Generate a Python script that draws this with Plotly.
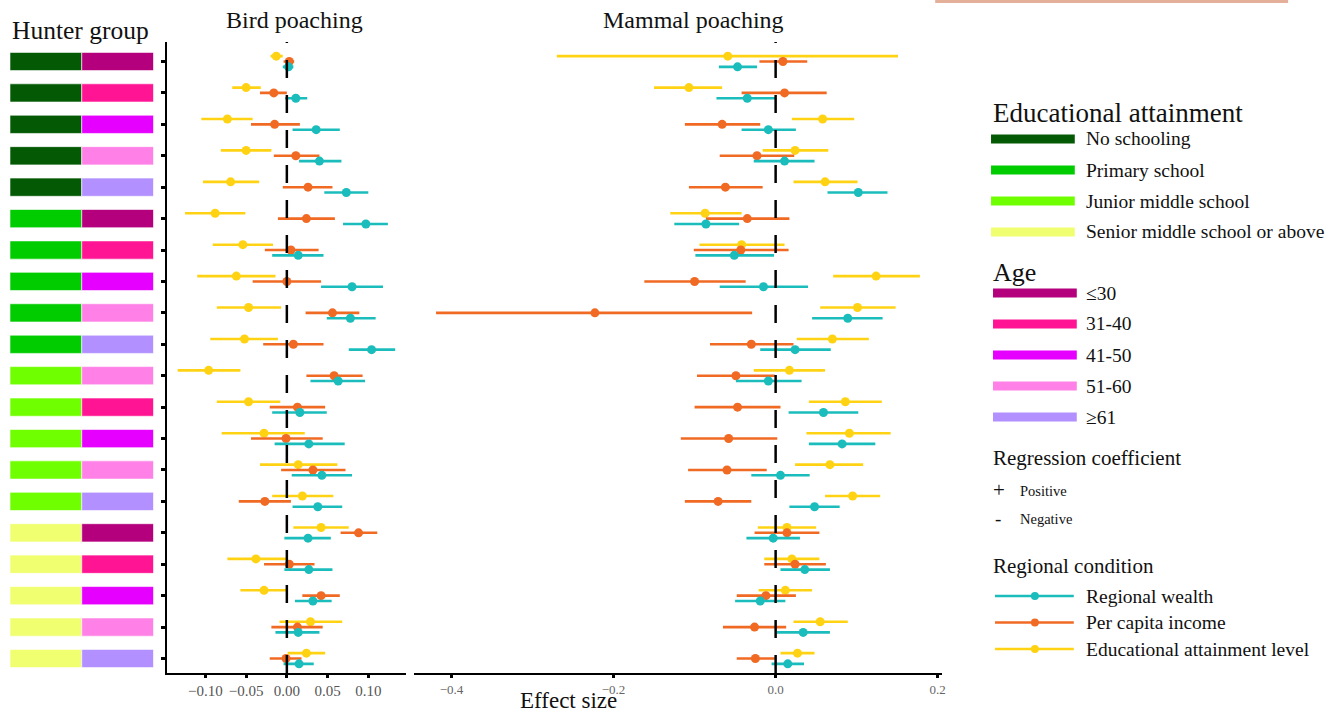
import plotly.graph_objects as go

W, H = 1339, 714
SERIF = "Liberation Serif, Times New Roman, serif"

# ---------------- data ----------------
education_groups = ["No schooling"] * 5 + ["Primary school"] * 5 + ["Junior middle school"] * 5 + ["Senior middle school or above"] * 5
age_groups = ["≤30", "31-40", "41-50", "51-60", "≥61",
              "≤30", "31-40", "41-50", "51-60", "≥61",
              "51-60", "31-40", "41-50", "51-60", "≥61",
              "≤30", "31-40", "41-50", "51-60", "≥61"]

# Bird poaching
bird_edu = [-0.013, -0.050, -0.073, -0.050, -0.069, -0.088, -0.054, -0.062, -0.047, -0.052,
            -0.096, -0.047, -0.028, 0.014, 0.019, 0.042, -0.038, -0.028, 0.029, 0.024]
bird_edu_lo = [-0.020, -0.067, -0.105, -0.081, -0.103, -0.125, -0.091, -0.110, -0.086, -0.094,
               -0.134, -0.086, -0.080, -0.033, -0.018, 0.008, -0.073, -0.057, -0.009, 0.001]
bird_edu_hi = [-0.005, -0.032, -0.042, -0.019, -0.034, -0.051, -0.017, -0.014, -0.007, -0.011,
               -0.057, -0.008, 0.022, 0.062, 0.057, 0.076, 0.000, 0.000, 0.068, 0.047]

bird_inc = [0.003, -0.016, -0.015, 0.011, 0.026, 0.024, 0.005, 0.000, 0.056, 0.008,
            0.058, 0.013, -0.001, 0.032, -0.027, 0.088, 0.003, 0.042, 0.013, -0.001]
bird_inc_lo = [-0.004, -0.033, -0.044, -0.016, -0.005, -0.011, -0.027, -0.042, 0.023, -0.029,
               0.024, -0.021, -0.044, -0.007, -0.059, 0.066, -0.028, 0.019, -0.019, -0.021]
bird_inc_hi = [0.009, 0.000, 0.016, 0.040, 0.056, 0.059, 0.039, 0.042, 0.089, 0.045,
               0.093, 0.047, 0.044, 0.072, 0.005, 0.111, 0.034, 0.065, 0.044, 0.018]

bird_wea = [0.002, 0.011, 0.036, 0.040, 0.073, 0.097, 0.014, 0.080, 0.078, 0.104,
            0.063, 0.016, 0.027, 0.043, 0.038, 0.026, 0.027, 0.032, 0.014, 0.015]
bird_wea_lo = [-0.005, -0.002, 0.007, 0.015, 0.046, 0.069, -0.018, 0.042, 0.049, 0.076,
               0.029, -0.018, -0.015, 0.006, 0.007, -0.003, -0.003, 0.010, -0.014, -0.004]
bird_wea_hi = [0.008, 0.025, 0.065, 0.067, 0.100, 0.124, 0.045, 0.118, 0.109, 0.133,
               0.096, 0.049, 0.071, 0.080, 0.068, 0.054, 0.056, 0.055, 0.040, 0.033]

# Mammal poaching
mam_edu = [-0.059, -0.107, 0.058, 0.024, 0.061, -0.087, -0.042, 0.124, 0.101, 0.070,
           0.017, 0.086, 0.091, 0.067, 0.095, 0.014, 0.020, 0.012, 0.055, 0.027]
mam_edu_lo = [-0.270, -0.150, 0.020, -0.016, 0.022, -0.130, -0.094, 0.071, 0.055, 0.026,
              -0.027, 0.041, 0.038, 0.024, 0.061, -0.022, -0.014, -0.021, 0.022, 0.006]
mam_edu_hi = [0.151, -0.066, 0.097, 0.065, 0.101, -0.042, 0.011, 0.178, 0.148, 0.115,
              0.061, 0.131, 0.142, 0.108, 0.129, 0.050, 0.054, 0.045, 0.089, 0.048]

mam_inc = [0.009, 0.011, -0.066, -0.023, -0.062, -0.035, -0.043, -0.100, -0.223, -0.030,
           -0.049, -0.047, -0.058, -0.060, -0.071, 0.014, 0.024, -0.012, -0.026, -0.025]
mam_inc_lo = [-0.020, -0.042, -0.112, -0.069, -0.107, -0.086, -0.101, -0.162, -0.419, -0.081,
              -0.097, -0.100, -0.117, -0.108, -0.112, -0.026, -0.014, -0.048, -0.065, -0.048]
mam_inc_hi = [0.039, 0.063, -0.019, 0.023, -0.016, 0.017, 0.016, -0.037, -0.029, 0.022,
              -0.001, 0.006, 0.002, -0.011, -0.030, 0.054, 0.062, 0.025, 0.013, -0.001]

mam_wea = [-0.047, -0.035, -0.009, 0.011, 0.102, -0.086, -0.051, -0.015, 0.089, 0.024,
           -0.009, 0.059, 0.082, 0.006, 0.048, -0.003, 0.036, -0.019, 0.034, 0.015]
mam_wea_lo = [-0.070, -0.073, -0.042, -0.027, 0.064, -0.125, -0.099, -0.069, 0.045, -0.019,
              -0.049, 0.016, 0.041, -0.030, 0.017, -0.036, 0.006, -0.050, 0.001, -0.005]
mam_wea_hi = [-0.023, 0.000, 0.025, 0.048, 0.138, -0.045, -0.002, 0.040, 0.132, 0.068,
              0.032, 0.102, 0.123, 0.042, 0.079, 0.030, 0.067, 0.012, 0.067, 0.035]

bird_ticks = [-0.10, -0.05, 0.00, 0.05, 0.10]
mam_ticks = [-0.4, -0.2, 0.0, 0.2]

edu_labels = ["No schooling", "Primary school", "Junior middle school", "Senior middle school or above"]
age_labels = ["≤30", "31-40", "41-50", "51-60", "≥61"]
region_labels = ["Regional wealth", "Per capita income", "Educational attainment level"]

# ---------------- styles ----------------
edu_colors = {"No schooling": "#045a04", "Primary school": "#00cc00",
              "Junior middle school": "#70ff00", "Senior middle school or above": "#f0ff70"}
age_colors = {"≤30": "#b4007c", "31-40": "#ff1493", "41-50": "#e600ff",
              "51-60": "#ff80e6", "≥61": "#b290ff"}
C_WEA, C_INC, C_EDU = "#1bbcbc", "#f06a24", "#ffd314"
region_colors = [C_WEA, C_INC, C_EDU]

n = len(education_groups)
ypos = [n - i for i in range(n)]  # row 1 at top
OFF = 0.17


def px(x):
    return x / W


def py(y):
    return 1 - y / H


fig = go.Figure()


def add_series(est, lo, hi, color, offset, xa):
    fig.add_trace(go.Scatter(
        x=est, y=[y + offset for y in ypos], mode="markers", xaxis=xa, yaxis="y",
        marker=dict(color=color, size=9, line=dict(width=0)),
        error_x=dict(type="data", symmetric=False,
                     array=[h - e for h, e in zip(hi, est)],
                     arrayminus=[e - l for e, l in zip(est, lo)],
                     color=color, thickness=2.6, width=0),
        showlegend=False, hoverinfo="x"))


add_series(bird_edu, bird_edu_lo, bird_edu_hi, C_EDU, OFF, "x")
add_series(bird_inc, bird_inc_lo, bird_inc_hi, C_INC, 0, "x")
add_series(bird_wea, bird_wea_lo, bird_wea_hi, C_WEA, -OFF, "x")
add_series(mam_edu, mam_edu_lo, mam_edu_hi, C_EDU, OFF, "x2")
add_series(mam_inc, mam_inc_lo, mam_inc_hi, C_INC, 0, "x2")
add_series(mam_wea, mam_wea_lo, mam_wea_hi, C_WEA, -OFF, "x2")

# Hunter group bars
fig.add_trace(go.Bar(orientation="h", x=[1] * n, y=ypos, base=0, width=0.58,
                     marker=dict(color=[edu_colors[e] for e in education_groups],
                                 line=dict(color="white", width=0.6)),
                     xaxis="x3", yaxis="y", showlegend=False, hoverinfo="skip"))
fig.add_trace(go.Bar(orientation="h", x=[1] * n, y=ypos, base=1, width=0.58,
                     marker=dict(color=[age_colors[a] for a in age_groups],
                                 line=dict(color="white", width=0.6)),
                     xaxis="x3", yaxis="y", showlegend=False, hoverinfo="skip"))

y_dom = [py(673), py(42)]
ymin = 1 - (673 - 658.5) / 31.42
ymax = n + (61.5 - 42) / 31.42

axis_common = dict(showgrid=False, zeroline=False, showline=True, linecolor="black", linewidth=2,
                   ticks="outside", ticklen=3, tickwidth=3, tickcolor="black", anchor="y")

fig.update_layout(
    width=W, height=H, margin=dict(l=0, r=0, t=0, b=0),
    plot_bgcolor="white", paper_bgcolor="white", showlegend=False, barmode="overlay",
    xaxis=dict(domain=[px(168), px(407)], range=[-0.1465, 0.146], tickvals=bird_ticks,
               tickformat=".2f", tickfont=dict(family=SERIF, size=15, color="#555555"), **axis_common),
    xaxis2=dict(domain=[px(415), px(945)], range=[-0.4465, 0.2055], tickvals=mam_ticks,
                tickformat=".1f", tickfont=dict(family=SERIF, size=13, color="#666666"), **axis_common),
    xaxis3=dict(domain=[px(10), px(154)], range=[0, 2], visible=False, anchor="y", fixedrange=True),
    yaxis=dict(domain=y_dom, range=[ymin, ymax], anchor="x", showgrid=False, zeroline=False,
               showline=True, linecolor="black", linewidth=2, ticks="outside", ticklen=4,
               tickwidth=3, tickcolor="black", tickvals=ypos, showticklabels=False),
)

# dashed zero lines
for xr in ["x", "x2"]:
    fig.add_shape(type="line", xref=xr, yref="y domain", x0=0, x1=0, y0=0, y1=1,
                  line=dict(color="black", width=2.5, dash="18px,17px"), layer="above")

# top-right decorative bar
fig.add_shape(type="rect", xref="paper", yref="paper", x0=px(938), x1=px(1292), y0=py(3), y1=py(0),
              fillcolor="#e4b09a", line=dict(width=0))

ann = []


def text(x, y, s, size, xanchor="left", color="#111111"):
    ann.append(dict(x=px(x), y=py(y), xref="paper", yref="paper", text=s, showarrow=False,
                    xanchor=xanchor, yanchor="middle", font=dict(family=SERIF, size=size, color=color)))


text(81, 31, "Hunter group", 25.5, "center")
text(295, 20, "Bird poaching", 24, "center")
text(696, 20, "Mammal poaching", 24, "center")
text(570, 700, "Effect size", 23, "center")

# Legend: educational attainment
text(994, 113, "Educational attainment", 27)
for i, lab in enumerate(edu_labels):
    yc = 139 + 31 * i
    fig.add_shape(type="rect", xref="paper", yref="paper", x0=px(994), x1=px(1078),
                  y0=py(yc + 4.5), y1=py(yc - 4.5), fillcolor=edu_colors[lab], line=dict(width=0))
    text(1087, yc, lab, 19.5)

# Legend: age
text(994, 272, "Age", 26)
for i, lab in enumerate(age_labels):
    yc = 293 + 31 * i
    fig.add_shape(type="rect", xref="paper", yref="paper", x0=px(996), x1=px(1080),
                  y0=py(yc + 4.5), y1=py(yc - 4.5), fillcolor=age_colors[lab], line=dict(width=0))
    text(1087, yc, lab, 19.5)

# Legend: regression coefficient
text(994, 458, "Regression coefficient", 21)
text(1002, 490, "+", 21, "center")
text(1021, 491, "Positive", 14.5)
text(1001, 518, "-", 19, "center")
text(1021, 519, "Negative", 14.5)

# Legend: regional condition
text(994, 566, "Regional condition", 21)
for i, lab in enumerate(region_labels):
    yc = 596 + 26.5 * i
    fig.add_shape(type="line", xref="paper", yref="paper", x0=px(998), x1=px(1077),
                  y0=py(yc), y1=py(yc), line=dict(color=region_colors[i], width=2.5))
    fig.add_shape(type="circle", xref="paper", yref="paper", x0=px(1034), x1=px(1042),
                  y0=py(yc + 4), y1=py(yc - 4), fillcolor=region_colors[i], line=dict(width=0))
    text(1087, yc, lab, 19.5)

fig.update_layout(annotations=ann)
fig.write_html("out.html")
